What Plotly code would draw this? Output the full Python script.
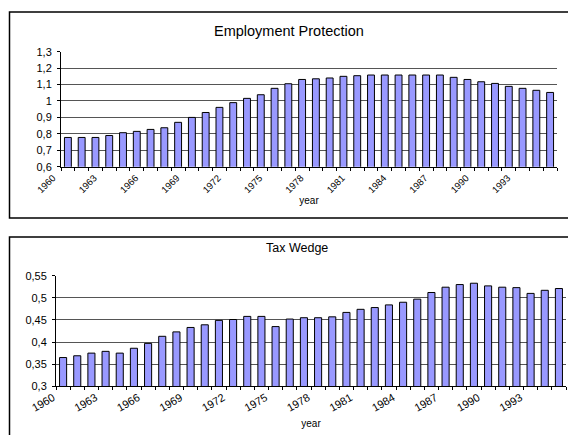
import plotly.graph_objects as go

W, H = 568, 435

years = list(range(1960, 1996))

employment_protection = [
    0.778, 0.778, 0.778, 0.790, 0.807, 0.815, 0.827, 0.837, 0.870, 0.900,
    0.930, 0.961, 0.990, 1.016, 1.038, 1.077, 1.105, 1.131, 1.135, 1.140,
    1.150, 1.154, 1.158, 1.158, 1.158, 1.158, 1.158, 1.158, 1.144, 1.131,
    1.117, 1.107, 1.089, 1.077, 1.065, 1.052,
]

tax_wedge = [
    0.365, 0.369, 0.375, 0.379, 0.375, 0.386, 0.397, 0.413, 0.423, 0.433,
    0.439, 0.449, 0.451, 0.458, 0.458, 0.435, 0.452, 0.455, 0.455, 0.457,
    0.467, 0.474, 0.478, 0.484, 0.490, 0.497, 0.512, 0.524, 0.530, 0.533,
    0.527, 0.524, 0.523, 0.510, 0.517, 0.521,
]

year_ticks = list(range(1960, 1996, 3))
ep_ticks = [0.6, 0.7, 0.8, 0.9, 1.0, 1.1, 1.2, 1.3]
tw_ticks = [0.3, 0.35, 0.4, 0.45, 0.5, 0.55]

FONT = "Liberation Sans, Arial, sans-serif"
BAR_FILL = "#9999FF"


def px_x(x):
    return x / W


def px_y(y):
    return 1 - y / H


fig = go.Figure()

fig.add_trace(go.Bar(
    x=years, y=employment_protection, xaxis="x", yaxis="y",
    width=0.5, marker=dict(color=BAR_FILL, line=dict(color="black", width=1)),
))
fig.add_trace(go.Bar(
    x=years, y=tax_wedge, xaxis="x2", yaxis="y2",
    width=0.5, marker=dict(color=BAR_FILL, line=dict(color="black", width=1)),
))

boundaries = [y - 0.5 for y in years] + [years[-1] + 0.5]


def xaxis_style(domain, anchor, angle, size, shift, label_gap, standoff):
    return dict(
        domain=domain, anchor=anchor, range=[1959.5, 1995.5],
        tickmode="array", tickvals=year_ticks, ticktext=[str(v) for v in year_ticks],
        tickangle=angle, ticks="", showgrid=False, zeroline=False,
        showline=True, linecolor="black", linewidth=1,
        tickfont=dict(family=FONT, size=size, color="black"),
        ticklabelshift=shift, ticklabelstandoff=label_gap,
        minor=dict(tickmode="array", tickvals=boundaries, ticks="outside",
                   ticklen=3, tickcolor="black", showgrid=False),
        title=dict(text="year", font=dict(family=FONT, size=10, color="black"),
                   standoff=standoff),
        automargin=False,
        fixedrange=True,
    )


def yaxis_style(domain, anchor, rng, ticks):
    return dict(
        domain=domain, anchor=anchor, range=rng,
        tickmode="array", tickvals=ticks,
        ticks="outside", ticklen=3, tickcolor="black",
        showgrid=True, gridcolor="#555555", gridwidth=1,
        zeroline=False, showline=True, linecolor="black", linewidth=1,
        tickfont=dict(family=FONT, size=11, color="black"),
        ticklabelstandoff=3,
        automargin=False,
        fixedrange=True,
    )


def open_box(x0, y_top, y_bottom):
    # left, top and bottom edges; the right side runs off the page
    return dict(
        type="path", xref="paper", yref="paper",
        path=(f"M 1.2,{y_top} L {x0},{y_top} L {x0},{y_bottom} L 1.2,{y_bottom}"),
        line=dict(color="black", width=1.5),
    )


fig.update_layout(
    width=W, height=H,
    margin=dict(l=0, r=0, t=0, b=0, autoexpand=False),
    paper_bgcolor="white", plot_bgcolor="white",
    separators=",.",
    showlegend=False,
    bargap=0.5,
    xaxis=xaxis_style([px_x(61), px_x(557)], "y", -45, 9.5, -15, 1, 0),
    yaxis=yaxis_style([px_y(166.7), px_y(51.7)], "x", [0.6, 1.3], ep_ticks),
    xaxis2=xaxis_style([px_x(56), px_x(566)], "y2", -30, 11, -10, 0, 7),
    yaxis2=yaxis_style([px_y(386.3), px_y(275.7)], "x2", [0.3, 0.55], tw_ticks),
    shapes=[
        open_box(px_x(9.5), px_y(12), px_y(218)),
        open_box(px_x(9.5), px_y(237), -0.2),
    ],
    annotations=[
        dict(text="Employment Protection", xref="paper", yref="paper",
             x=px_x(289), y=px_y(21), showarrow=False,
             font=dict(family=FONT, size=14.5, color="black")),
        dict(text="Tax Wedge", xref="paper", yref="paper",
             x=px_x(297), y=px_y(248), showarrow=False,
             font=dict(family=FONT, size=12.5, color="black")),
    ],
)

fig.write_html("out.html")
